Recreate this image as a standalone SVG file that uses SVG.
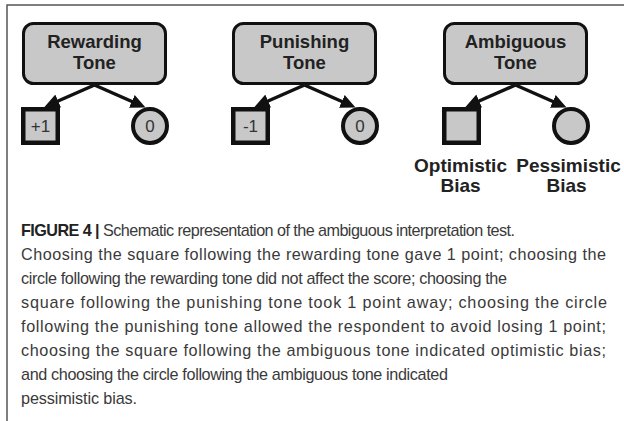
<svg xmlns="http://www.w3.org/2000/svg" width="624" height="421" viewBox="0 0 624 421">
<style>
.frame{stroke:#555;stroke-width:1.5;fill:none}
.tone{fill:#c8c8c8;stroke:#111;stroke-width:3}
.sq{fill:#c8c8c8;stroke:#111;stroke-width:4.5}
.ci{fill:#c8c8c8;stroke:#111;stroke-width:4}
.tt{font-family:"Liberation Sans",Arial,sans-serif;font-weight:bold;font-size:18.5px;fill:#222;text-anchor:middle}
.lb{font-family:"Liberation Sans",Arial,sans-serif;font-weight:bold;font-size:19px;fill:#222;text-anchor:middle}
.num{font-family:"Liberation Sans",Arial,sans-serif;font-size:17px;fill:#333;text-anchor:middle}
.cap{font-family:"Liberation Sans",Arial,sans-serif;font-size:16.2px;fill:#3a3a3a}
.capb{font-weight:bold;fill:#222}
.arr{stroke:#111;stroke-width:3.5;fill:none;marker-end:url(#ah)}
</style>
<defs>
<marker id="ah" markerUnits="userSpaceOnUse" markerWidth="15" markerHeight="14" refX="10" refY="7" orient="auto">
<path d="M0,0 L15,7 L0,14 z" fill="#111"/>
</marker>
</defs>
<rect width="624" height="421" fill="#fff"/>
<path class="frame" d="M7,421 V5 H624"/>

<g id="connectors">
<line class="arr" x1="94.5" y1="85" x2="49" y2="105"/>
<line class="arr" x1="94.5" y1="85" x2="141" y2="105.5"/>
<line class="arr" x1="304.5" y1="85" x2="259" y2="105"/>
<line class="arr" x1="304.5" y1="85" x2="351" y2="105.5"/>
<line class="arr" x1="515.5" y1="85" x2="470" y2="105"/>
<line class="arr" x1="515.5" y1="85" x2="562" y2="105.5"/>
</g>

<g id="rewarding-tone">
<rect class="tone" x="23.5" y="23.5" width="142" height="60" rx="10"/>
<text class="tt" x="94.5" y="48">Rewarding</text>
<text class="tt" x="94.5" y="69">Tone</text>
</g>
<g id="rewarding-square">
<rect class="sq" x="23.25" y="109.25" width="34.5" height="33.5"/>
<text class="num" x="40.5" y="132">+1</text>
</g>
<g id="rewarding-circle">
<circle class="ci" cx="150" cy="126" r="17"/>
<text class="num" x="150" y="132">0</text>
</g>

<g id="punishing-tone">
<rect class="tone" x="233.5" y="23.5" width="142" height="60" rx="10"/>
<text class="tt" x="304.5" y="48">Punishing</text>
<text class="tt" x="304.5" y="69">Tone</text>
</g>
<g id="punishing-square">
<rect class="sq" x="233.25" y="109.25" width="34.5" height="33.5"/>
<text class="num" x="250.5" y="132">-1</text>
</g>
<g id="punishing-circle">
<circle class="ci" cx="360" cy="126" r="17"/>
<text class="num" x="360" y="132">0</text>
</g>

<g id="ambiguous-tone">
<rect class="tone" x="444.5" y="23.5" width="142" height="60" rx="10"/>
<text class="tt" x="515.5" y="48">Ambiguous</text>
<text class="tt" x="515.5" y="69">Tone</text>
</g>
<g id="optimistic-bias">
<rect class="sq" x="444.25" y="109.25" width="34.5" height="33.5"/>
<text class="lb" x="460.5" y="172">Optimistic</text>
<text class="lb" x="460.5" y="192">Bias</text>
</g>
<g id="pessimistic-bias">
<circle class="ci" cx="571" cy="126" r="17"/>
<text class="lb" x="568.5" y="172">Pessimistic</text>
<text class="lb" x="566.5" y="192">Bias</text>
</g>

<g id="caption">
<text class="cap" x="21" y="236" textLength="494" lengthAdjust="spacing"><tspan class="capb">FIGURE 4 |</tspan> Schematic representation of the ambiguous interpretation test.</text>
<text class="cap" x="21" y="260" textLength="585" lengthAdjust="spacing">Choosing the square following the rewarding tone gave 1 point; choosing the</text>
<text class="cap" x="21" y="284" textLength="486" lengthAdjust="spacing">circle following the rewarding tone did not affect the score; choosing the</text>
<text class="cap" x="21" y="308" textLength="586" lengthAdjust="spacing">square following the punishing tone took 1 point away; choosing the circle</text>
<text class="cap" x="21" y="332" textLength="585" lengthAdjust="spacing">following the punishing tone allowed the respondent to avoid losing 1 point;</text>
<text class="cap" x="21" y="356" textLength="585" lengthAdjust="spacing">choosing the square following the ambiguous tone indicated optimistic bias;</text>
<text class="cap" x="21" y="380" textLength="427" lengthAdjust="spacing">and choosing the circle following the ambiguous tone indicated</text>
<text class="cap" x="21" y="404" textLength="116" lengthAdjust="spacing">pessimistic bias.</text>
</g>
</svg>
